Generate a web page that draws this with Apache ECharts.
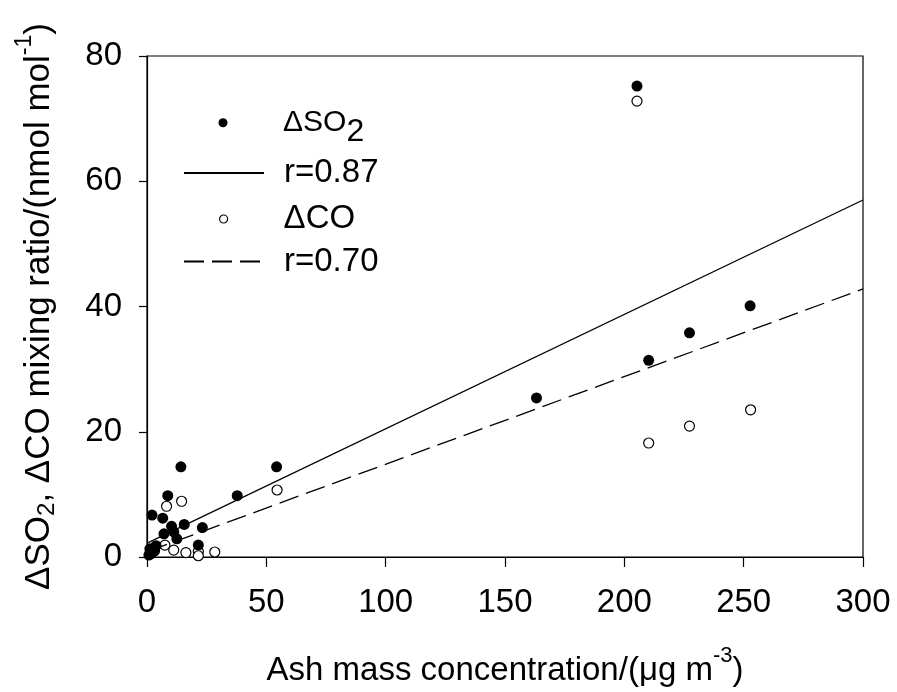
<!DOCTYPE html>
<html>
<head>
<meta charset="utf-8">
<script src="https://cdn.jsdelivr.net/npm/echarts@6/dist/echarts.min.js"></script>
<style>
  html, body { margin: 0; padding: 0; background: #fff; overflow: hidden; }
  #chart { width: 897px; height: 692px; }
</style>
</head>
<body>
<div id="chart"></div>
<script>
// Ash mass concentration (µg m-3) vs. excess SO2 / CO mixing ratio (nmol mol-1)
const so2Points = [
  [205.3, 75.2], [210.2, 31.4], [227.3, 35.8], [252.7, 40.1], [163.2, 25.4],
  [54.3, 14.4], [37.8, 9.8], [14.2, 14.4], [8.7, 9.8], [2.1, 6.7],
  [6.6, 6.2], [10.3, 4.9], [15.6, 5.2], [23.2, 4.7], [7.1, 3.7],
  [11.2, 4.0], [12.5, 2.9], [21.5, 1.9], [1.2, 1.3], [3.2, 1.0],
  [2.0, 0.6], [0.8, 0.3], [3.8, 1.8]
];
const coPoints = [
  [205.3, 72.8], [210.2, 18.2], [227.3, 20.9], [252.9, 23.5], [54.5, 10.7],
  [14.5, 8.9], [8.2, 8.1], [7.5, 1.9], [11.2, 1.1], [16.3, 0.7],
  [21.5, 0.9], [21.5, 0.2], [28.4, 0.8]
];
// regression line end points
const fitX = [0.5, 300];
const so2FitY = [2.3, 57.0];
const coFitY = [0.9, 42.8];

const xTicks = { min: 0, max: 300, interval: 50 };
const yTicks = { min: 0, max: 80, interval: 20 };

const nameSO2 = 'ΔSO2', nameR1 = 'r=0.87', nameCO = 'ΔCO', nameR2 = 'r=0.70';

const FONT = '"Liberation Sans", Arial, sans-serif';
const chart = echarts.init(document.getElementById('chart'), null, {
  renderer: 'canvas', width: 897, height: 692
});

// one legend block per row; rows share an 80px icon column starting at x=183
const LEGEND_X = 183, ICON_W = 80;
function legendAt(item, top, iconH, isDot) {
  return {
    data: [item],
    orient: 'vertical',
    // a lone dot icon only occupies its own diameter, so shift the block to keep it centred in the column
    left: isDot ? LEGEND_X + ICON_W / 2 - iconH / 2 : LEGEND_X,
    top: top,
    padding: 0,
    itemWidth: ICON_W,
    itemHeight: iconH,
    selectedMode: false,
    formatter: function (n) {
      if (n === nameSO2) return '{m|ΔSO}{s|2}';
      return '{t|' + n + '}';
    },
    textStyle: {
      color: '#000',
      fontFamily: FONT,
      padding: [0, 0, 0, 15],
      rich: {
        t: { fontSize: 33, lineHeight: 40, fontFamily: FONT, color: '#000' },
        m: { fontSize: 30, lineHeight: 40, fontFamily: FONT, color: '#000' },
        s: { fontSize: 32, lineHeight: 40, fontFamily: FONT, color: '#000', padding: [18, 0, 0, 0] }
      }
    }
  };
}

const option = {
  animation: false,
  backgroundColor: '#fff',
  grid: {
    left: 147, right: 34, top: 56, bottom: 135,
    outerBoundsMode: 'none',
    containLabel: false,
    show: true, borderColor: '#000', borderWidth: 1.2, backgroundColor: 'transparent'
  },
  legend: [
    legendAt({ name: nameSO2, icon: 'circle', itemStyle: { color: '#000', borderWidth: 0 } }, 97.7, 9, true),
    legendAt({ name: nameR1, itemStyle: { opacity: 0 } }, 156.5, 10, false),
    legendAt({ name: nameCO, icon: 'circle', itemStyle: { color: '#fff', borderColor: '#000', borderWidth: 1.2 } }, 202.5, 8, true),
    legendAt({ name: nameR2, itemStyle: { opacity: 0 } }, 245, 10, false)
  ],
  xAxis: {
    type: 'value',
    min: xTicks.min, max: xTicks.max, interval: xTicks.interval,
    axisLine: { show: true, onZero: false, lineStyle: { color: '#000', width: 1.2 } },
    axisTick: { show: true, inside: false, length: 10, lineStyle: { color: '#000', width: 1.2 } },
    splitLine: { show: false },
    axisLabel: { color: '#000', fontSize: 33, fontFamily: FONT, margin: 29 },
    name: '{a|Ash mass concentration/(μg m}{p|-3}{a|)}',
    nameLocation: 'middle',
    nameGap: 94,
    nameTextStyle: {
      rich: {
        a: { fontSize: 33, lineHeight: 40, fontFamily: FONT, color: '#000' },
        p: { fontSize: 22, lineHeight: 40, fontFamily: FONT, color: '#000', padding: [0, 0, 30, 0] }
      }
    }
  },
  yAxis: {
    type: 'value',
    min: yTicks.min, max: yTicks.max, interval: yTicks.interval,
    axisLine: { show: true, onZero: false, lineStyle: { color: '#000', width: 1.2 } },
    axisTick: { show: true, inside: false, length: 8, lineStyle: { color: '#000', width: 1.2 } },
    splitLine: { show: false },
    axisLabel: { color: '#000', fontSize: 33, fontFamily: FONT, margin: 25 },
    name: '{a|ΔSO}{b|2}{a|, ΔCO mixing ratio/(nmol mol}{p|-1}{a|)}',
    nameLocation: 'middle',
    nameRotate: 90,
    nameGap: 88,
    nameTextStyle: {
      rich: {
        a: { fontSize: 35, lineHeight: 40, fontFamily: FONT, color: '#000' },
        b: { fontSize: 24, lineHeight: 40, fontFamily: FONT, color: '#000', padding: [16, 0, 0, 0] },
        p: { fontSize: 23, lineHeight: 40, fontFamily: FONT, color: '#000', padding: [0, 0, 28, 0] }
      }
    }
  },
  series: [
    {
      name: nameCO,
      type: 'scatter',
      data: coPoints,
      symbol: 'circle',
      symbolSize: 10,
      itemStyle: { color: '#fff', borderColor: '#000', borderWidth: 1.2, opacity: 1 },
      z: 2
    },
    {
      name: nameSO2,
      type: 'scatter',
      data: so2Points,
      symbol: 'circle',
      symbolSize: 11,
      itemStyle: { color: '#000', opacity: 1 },
      z: 3
    },
    {
      name: nameR1,
      type: 'line',
      data: fitX.map((x, i) => [x, so2FitY[i]]),
      symbol: 'none',
      showSymbol: false,
      lineStyle: { color: '#000', width: 1.3, type: 'solid' },
      itemStyle: { color: '#000' },
      z: 4
    },
    {
      name: nameR2,
      type: 'line',
      data: fitX.map((x, i) => [x, coFitY[i]]),
      symbol: 'none',
      showSymbol: false,
      lineStyle: { color: '#000', width: 1.3, type: [20, 8] },
      itemStyle: { color: '#000' },
      z: 4
    }
  ]
};

chart.setOption(option);
</script>
</body>
</html>
